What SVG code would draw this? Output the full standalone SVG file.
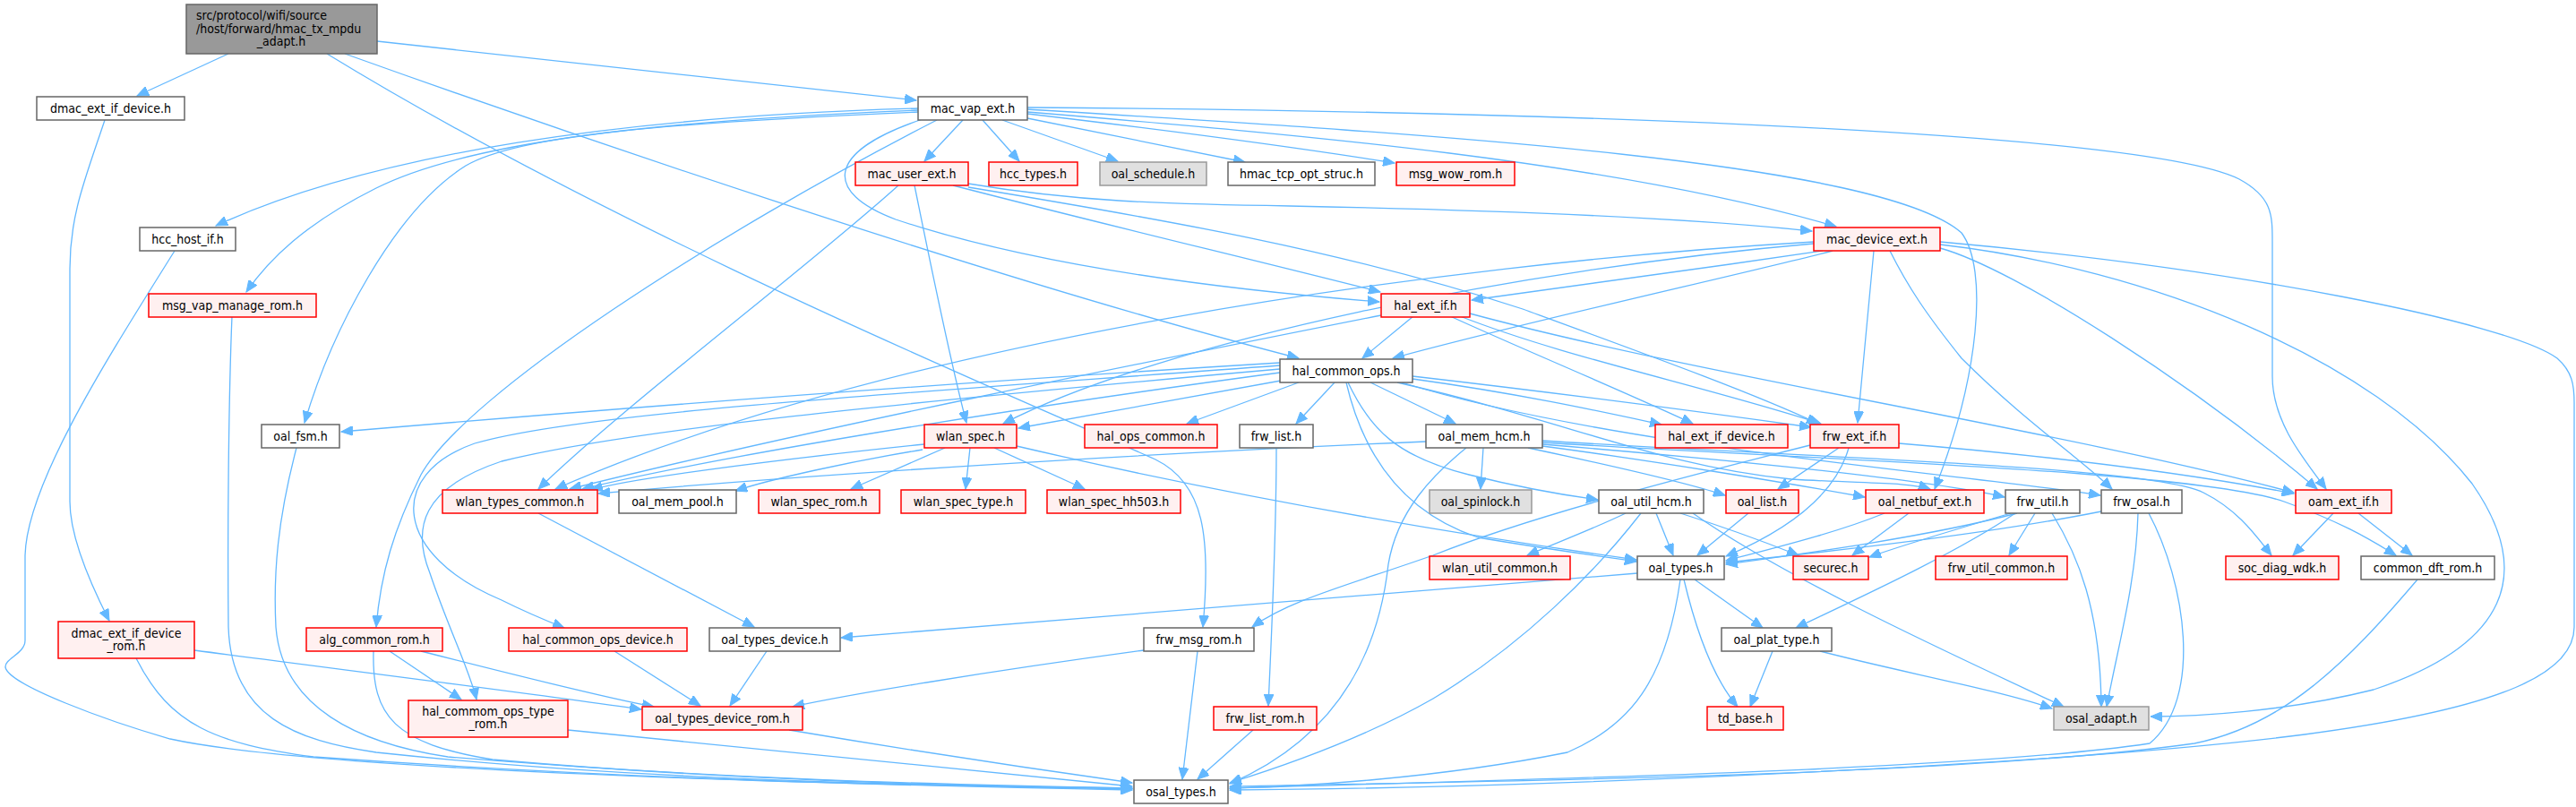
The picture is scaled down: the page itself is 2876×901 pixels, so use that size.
<svg xmlns="http://www.w3.org/2000/svg" width="2876" height="901" viewBox="0 0 2876 901">
<style>
.w{fill:#ffffff;stroke:#666666;stroke-width:1.5}
.r{fill:#fff0f0;stroke:#ff0000;stroke-width:1.5}
.g{fill:#e0e0e0;stroke:#999999;stroke-width:1.5}
.t{fill:#999999;stroke:#666666;stroke-width:1.5}
text{font-family:"DejaVu Sans Condensed","Liberation Sans",sans-serif;font-size:14px;fill:#000;text-anchor:middle}
.e path{fill:none;stroke:#63b8ff;stroke-width:1.3;marker-end:url(#a)}
</style>
<defs>
<marker id="a" markerUnits="userSpaceOnUse" markerWidth="14" markerHeight="11" refX="13" refY="5.5" orient="auto"><path d="M0,0 L13,5.5 L0,11 z" fill="#63b8ff" stroke="#63b8ff"/></marker>
</defs>
<rect width="2876" height="901" fill="#ffffff"/>
<g id="edges" class="e">
<path d="M255,60 L153,107"/>
<path d="M421,46 L1023,112"/>
<path d="M385,60 C600,137 1100,310 1450,400"/>
<path d="M365,60 C700,265 1150,450 1290,513 C1345,540 1352,600 1343,700"/>
<path d="M1025,121 C700,130 420,170 241,252"/>
<path d="M1025,123 C720,135 520,160 420,210 C340,250 300,290 275,326"/>
<path d="M1026,125 C750,137 580,150 520,185 C440,235 370,370 340,472"/>
<path d="M1046,134 C800,260 520,440 470,530 C440,590 425,640 420,700"/>
<path d="M1075,134 L1032,180"/>
<path d="M1097,134 L1138,180"/>
<path d="M1119,134 L1248,180"/>
<path d="M1147,132 L1390,181"/>
<path d="M1147,127 C1300,145 1450,165 1557,182"/>
<path d="M1147,125 C1450,150 1800,180 2050,253"/>
<path d="M1147,122 C1600,150 2100,180 2190,260 C2220,300 2210,420 2160,546"/>
<path d="M1147,120 C1800,125 2400,150 2500,200 C2537,220 2537,240 2537,270 L2537,420 C2537,470 2570,510 2597,546"/>
<path d="M1030,133 C920,170 920,215 1000,245 C1150,295 1350,322 1540,337"/>
<path d="M1081,205 C1200,225 1300,228 1440,230 C1700,235 1900,245 2023,258"/>
<path d="M1021,207 C1040,300 1060,400 1079,472"/>
<path d="M1003,207 C900,300 700,450 601,546"/>
<path d="M1064,207 C1250,255 1400,290 1541,326"/>
<path d="M1081,209 C1300,245 1500,280 1700,345 C1850,400 1960,440 2030,473"/>
<path d="M2035,280 C1900,300 1750,320 1643,335"/>
<path d="M2046,280 C1950,305 1700,360 1555,400"/>
<path d="M2025,272 C1700,300 1300,380 1120,473"/>
<path d="M2025,270 C1600,295 1000,380 620,546"/>
<path d="M2092,280 L2074,472"/>
<path d="M2110,280 C2130,320 2150,350 2190,400 C2260,470 2320,510 2358,546"/>
<path d="M2166,277 C2250,300 2450,430 2587,546"/>
<path d="M2166,273 C2400,300 2650,400 2760,540 C2830,640 2800,720 2650,770 C2550,795 2450,800 2401,800"/>
<path d="M2166,270 C2500,300 2800,360 2855,400 C2872,415 2874,430 2874,450 L2874,700 C2874,750 2800,790 2573,820 C2300,855 1700,880 1373,882"/>
<path d="M1578,353 L1521,400"/>
<path d="M1619,353 C1700,390 1820,440 1890,473"/>
<path d="M1630,353 C1750,400 1900,430 2033,473"/>
<path d="M1641,350 C1900,420 2300,480 2561,550"/>
<path d="M1542,352 C1300,400 900,480 636,546"/>
<path d="M1429,405 C1100,425 700,455 381,482"/>
<path d="M1429,408 C1000,440 650,460 530,495 C430,530 440,620 560,670 C590,685 610,693 630,701"/>
<path d="M1429,412 C1000,450 700,480 560,515 C470,545 460,590 480,640 C500,700 525,750 532,781"/>
<path d="M1429,416 C1100,460 800,510 650,546"/>
<path d="M1430,425 L1137,478"/>
<path d="M1450,427 L1325,473"/>
<path d="M1490,427 L1447,473"/>
<path d="M1530,427 L1625,473"/>
<path d="M1577,423 C1700,440 1790,460 1855,474"/>
<path d="M1577,420 C1750,440 1900,460 2022,477"/>
<path d="M1505,427 C1530,480 1560,510 1640,530 C1700,545 1740,552 1784,558"/>
<path d="M1503,427 C1520,500 1560,570 1650,600 C1720,612 1780,620 1827,627"/>
<path d="M1560,427 C1750,470 1850,520 2000,535 C2080,540 2130,538 2155,546"/>
<path d="M1565,427 C1800,500 2200,530 2345,553"/>
<path d="M1592,493 C1300,505 900,530 668,551"/>
<path d="M1656,500 L1653,546"/>
<path d="M1706,500 C1800,520 1880,538 1926,553"/>
<path d="M1722,498 C1850,515 2000,540 2082,555"/>
<path d="M1637,500 C1600,530 1560,570 1550,630 C1540,720 1500,820 1373,875"/>
<path d="M1722,492 C2000,510 2400,520 2460,550 C2500,570 2520,600 2536,620"/>
<path d="M1722,494 C2000,512 2450,525 2550,560 C2620,585 2650,605 2675,620"/>
<path d="M1722,496 C1950,515 2150,535 2238,555"/>
<path d="M2053,500 L1985,546"/>
<path d="M2064,500 C2050,550 2000,590 1927,621"/>
<path d="M2021,497 C1850,540 1700,580 1600,620 C1500,655 1440,670 1398,700"/>
<path d="M2120,495 C2300,510 2450,530 2561,551"/>
<path d="M1055,500 L950,546"/>
<path d="M1083,500 L1078,546"/>
<path d="M1110,500 L1211,546"/>
<path d="M1032,496 C850,515 700,535 660,547"/>
<path d="M1030,502 C950,515 860,535 821,548"/>
<path d="M1135,498 C1400,560 1650,600 1827,625"/>
<path d="M601,573 L842,700"/>
<path d="M1815,573 C1780,590 1740,605 1705,620"/>
<path d="M1849,573 L1868,620"/>
<path d="M1876,573 C1930,590 1970,605 2008,620"/>
<path d="M1832,573 C1780,640 1700,720 1600,780 C1530,820 1450,850 1373,874"/>
<path d="M1890,573 C2000,650 2200,740 2304,789"/>
<path d="M1952,573 L1895,620"/>
<path d="M2104,573 C2050,595 1980,612 1927,626"/>
<path d="M2131,573 L2068,620"/>
<path d="M2252,573 C2150,600 2000,620 1927,630"/>
<path d="M2245,573 C2170,595 2120,610 2087,622"/>
<path d="M2250,573 C2180,620 2070,670 2005,701"/>
<path d="M2272,573 L2243,620"/>
<path d="M2291,573 C2320,620 2345,680 2346,789"/>
<path d="M2346,571 C2200,600 2000,620 1927,628"/>
<path d="M2387,573 C2385,650 2365,720 2352,789"/>
<path d="M2399,573 C2440,650 2460,780 2400,830 C2200,860 1700,870 1373,880"/>
<path d="M2605,573 L2560,620"/>
<path d="M2633,573 L2693,620"/>
<path d="M2699,647 C2620,740 2550,810 2450,830 C2200,865 1700,872 1373,878"/>
<path d="M1828,640 C1500,665 1200,690 939,712"/>
<path d="M1892,647 L1968,701"/>
<path d="M1880,647 C1895,710 1915,760 1940,789"/>
<path d="M1876,647 C1860,760 1820,810 1750,840 C1600,870 1450,878 1373,880"/>
<path d="M1979,727 L1954,789"/>
<path d="M2032,727 C2120,750 2230,770 2291,791"/>
<path d="M195,280 C120,400 30,540 28,620 L28,715 C28,730 5,735 6,745 C10,765 120,805 190,825 C350,860 900,875 1264,882"/>
<path d="M117,134 C95,200 78,240 78,300 L78,560 C78,600 100,650 122,693"/>
<path d="M152,735 C190,810 240,830 350,845 C700,870 1000,878 1264,880"/>
<path d="M217,726 C400,750 600,775 716,792"/>
<path d="M259,353 C255,450 254,600 255,700 C258,800 330,827 420,840 C700,870 1000,877 1264,880"/>
<path d="M331,500 C310,580 305,640 308,700 C315,790 400,830 500,845 C800,870 1050,876 1264,880"/>
<path d="M417,727 C415,800 440,830 550,848 C800,870 1050,877 1264,881"/>
<path d="M435,727 L515,781"/>
<path d="M470,727 C580,755 680,780 730,789"/>
<path d="M634,815 C900,840 1100,860 1264,878"/>
<path d="M686,727 L782,788"/>
<path d="M856,727 L815,788"/>
<path d="M1277,726 C1100,750 950,775 885,789"/>
<path d="M1337,727 L1320,870"/>
<path d="M1425,500 C1425,600 1420,700 1416,788"/>
<path d="M1399,815 L1337,870"/>
<path d="M881,815 C1000,835 1150,858 1264,874"/>
</g>
<g id="n_top"><rect class="t" x="208" y="5" width="213" height="55"/><text x="219" y="22" style="text-anchor:start">src/protocol/wifi/source</text><text x="219" y="37" style="text-anchor:start">/host/forward/hmac_tx_mpdu</text><text x="314" y="51">_adapt.h</text></g>
<g id="n_dmac_ext_if_device"><rect class="w" x="41" y="108" width="165" height="26"/><text x="123.5" y="126">dmac_ext_if_device.h</text></g>
<g id="n_mac_vap_ext"><rect class="w" x="1025" y="108" width="122" height="26"/><text x="1086" y="126">mac_vap_ext.h</text></g>
<g id="n_mac_user_ext"><rect class="r" x="955" y="181" width="126" height="26"/><text x="1018" y="199">mac_user_ext.h</text></g>
<g id="n_hcc_types"><rect class="r" x="1104" y="181" width="99" height="26"/><text x="1153.5" y="199">hcc_types.h</text></g>
<g id="n_oal_schedule"><rect class="g" x="1228" y="181" width="119" height="26"/><text x="1287.5" y="199">oal_schedule.h</text></g>
<g id="n_hmac_tcp_opt_struc"><rect class="w" x="1371" y="181" width="164" height="26"/><text x="1453" y="199">hmac_tcp_opt_struc.h</text></g>
<g id="n_msg_wow_rom"><rect class="r" x="1559" y="181" width="132" height="26"/><text x="1625" y="199">msg_wow_rom.h</text></g>
<g id="n_hcc_host_if"><rect class="w" x="156" y="254" width="107" height="26"/><text x="209.5" y="272">hcc_host_if.h</text></g>
<g id="n_mac_device_ext"><rect class="r" x="2025" y="254" width="141" height="26"/><text x="2095.5" y="272">mac_device_ext.h</text></g>
<g id="n_msg_vap_manage_rom"><rect class="r" x="166" y="328" width="187" height="26"/><text x="259.5" y="346">msg_vap_manage_rom.h</text></g>
<g id="n_hal_ext_if"><rect class="r" x="1542" y="328" width="99" height="26"/><text x="1591.5" y="346">hal_ext_if.h</text></g>
<g id="n_hal_common_ops"><rect class="w" x="1429" y="401" width="148" height="26"/><text x="1503" y="419">hal_common_ops.h</text></g>
<g id="n_oal_fsm"><rect class="w" x="292" y="474" width="87" height="26"/><text x="335.5" y="492">oal_fsm.h</text></g>
<g id="n_wlan_spec"><rect class="r" x="1032" y="474" width="103" height="26"/><text x="1083.5" y="492">wlan_spec.h</text></g>
<g id="n_hal_ops_common"><rect class="r" x="1211" y="474" width="148" height="26"/><text x="1285" y="492">hal_ops_common.h</text></g>
<g id="n_frw_list"><rect class="w" x="1384" y="474" width="82" height="26"/><text x="1425" y="492">frw_list.h</text></g>
<g id="n_oal_mem_hcm"><rect class="w" x="1592" y="474" width="130" height="26"/><text x="1657" y="492">oal_mem_hcm.h</text></g>
<g id="n_hal_ext_if_device"><rect class="r" x="1848" y="474" width="148" height="26"/><text x="1922" y="492">hal_ext_if_device.h</text></g>
<g id="n_frw_ext_if"><rect class="r" x="2021" y="474" width="99" height="26"/><text x="2070.5" y="492">frw_ext_if.h</text></g>
<g id="n_wlan_types_common"><rect class="r" x="494" y="547" width="173" height="26"/><text x="580.5" y="565">wlan_types_common.h</text></g>
<g id="n_oal_mem_pool"><rect class="w" x="691" y="547" width="131" height="26"/><text x="756.5" y="565">oal_mem_pool.h</text></g>
<g id="n_wlan_spec_rom"><rect class="r" x="847" y="547" width="135" height="26"/><text x="914.5" y="565">wlan_spec_rom.h</text></g>
<g id="n_wlan_spec_type"><rect class="r" x="1006" y="547" width="139" height="26"/><text x="1075.5" y="565">wlan_spec_type.h</text></g>
<g id="n_wlan_spec_hh503"><rect class="r" x="1169" y="547" width="149" height="26"/><text x="1243.5" y="565">wlan_spec_hh503.h</text></g>
<g id="n_oal_spinlock"><rect class="g" x="1596" y="547" width="114" height="26"/><text x="1653" y="565">oal_spinlock.h</text></g>
<g id="n_oal_util_hcm"><rect class="w" x="1785" y="547" width="117" height="26"/><text x="1843.5" y="565">oal_util_hcm.h</text></g>
<g id="n_oal_list"><rect class="r" x="1927" y="547" width="81" height="26"/><text x="1967.5" y="565">oal_list.h</text></g>
<g id="n_oal_netbuf_ext"><rect class="r" x="2083" y="547" width="132" height="26"/><text x="2149" y="565">oal_netbuf_ext.h</text></g>
<g id="n_frw_util"><rect class="w" x="2239" y="547" width="83" height="26"/><text x="2280.5" y="565">frw_util.h</text></g>
<g id="n_frw_osal"><rect class="w" x="2346" y="547" width="90" height="26"/><text x="2391" y="565">frw_osal.h</text></g>
<g id="n_oam_ext_if"><rect class="r" x="2563" y="547" width="107" height="26"/><text x="2616.5" y="565">oam_ext_if.h</text></g>
<g id="n_wlan_util_common"><rect class="r" x="1596" y="621" width="157" height="26"/><text x="1674.5" y="639">wlan_util_common.h</text></g>
<g id="n_oal_types"><rect class="w" x="1828" y="621" width="97" height="26"/><text x="1876.5" y="639">oal_types.h</text></g>
<g id="n_securec"><rect class="r" x="2002" y="621" width="84" height="26"/><text x="2044" y="639">securec.h</text></g>
<g id="n_frw_util_common"><rect class="r" x="2161" y="621" width="147" height="26"/><text x="2234.5" y="639">frw_util_common.h</text></g>
<g id="n_soc_diag_wdk"><rect class="r" x="2485" y="621" width="126" height="26"/><text x="2548" y="639">soc_diag_wdk.h</text></g>
<g id="n_common_dft_rom"><rect class="w" x="2636" y="621" width="149" height="26"/><text x="2710.5" y="639">common_dft_rom.h</text></g>
<g id="n_dmac_ext_if_device_rom"><rect class="r" x="65" y="694" width="152" height="41"/><text x="141" y="712">dmac_ext_if_device</text><text x="141" y="726">_rom.h</text></g>
<g id="n_alg_common_rom"><rect class="r" x="342" y="701" width="152" height="26"/><text x="418" y="719">alg_common_rom.h</text></g>
<g id="n_hal_common_ops_device"><rect class="r" x="568" y="701" width="199" height="26"/><text x="667.5" y="719">hal_common_ops_device.h</text></g>
<g id="n_oal_types_device"><rect class="w" x="792" y="701" width="146" height="26"/><text x="865" y="719">oal_types_device.h</text></g>
<g id="n_frw_msg_rom"><rect class="w" x="1277" y="701" width="123" height="26"/><text x="1338.5" y="719">frw_msg_rom.h</text></g>
<g id="n_oal_plat_type"><rect class="w" x="1922" y="701" width="123" height="26"/><text x="1983.5" y="719">oal_plat_type.h</text></g>
<g id="n_hal_commom_ops_type_rom"><rect class="r" x="456" y="782" width="178" height="41"/><text x="545" y="799">hal_commom_ops_type</text><text x="545" y="813">_rom.h</text></g>
<g id="n_oal_types_device_rom"><rect class="r" x="717" y="789" width="179" height="26"/><text x="806.5" y="807">oal_types_device_rom.h</text></g>
<g id="n_frw_list_rom"><rect class="r" x="1355" y="789" width="115" height="26"/><text x="1412.5" y="807">frw_list_rom.h</text></g>
<g id="n_td_base"><rect class="r" x="1906" y="789" width="85" height="26"/><text x="1948.5" y="807">td_base.h</text></g>
<g id="n_osal_adapt"><rect class="g" x="2293" y="789" width="106" height="26"/><text x="2346" y="807">osal_adapt.h</text></g>
<g id="n_osal_types"><rect class="w" x="1266" y="871" width="105" height="26"/><text x="1318.5" y="889">osal_types.h</text></g>
</svg>
